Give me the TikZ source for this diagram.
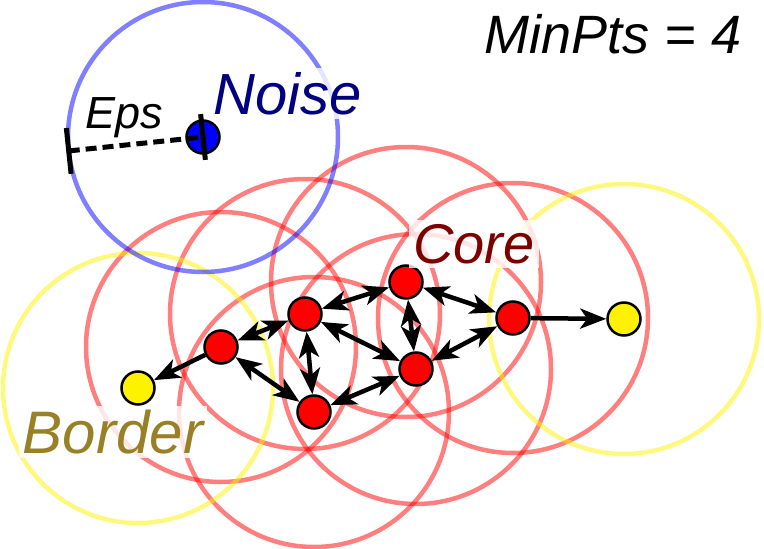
\documentclass[tikz,border=0pt]{standalone}
\usepackage{fontspec}
\setmainfont{Liberation Sans}
\usetikzlibrary{arrows.meta,positioning,calc,backgrounds}
\definecolor{noiseblue}{RGB}{0,0,128}
\definecolor{corered}{RGB}{125,0,0}
\definecolor{borderolive}{RGB}{153,128,38}

\begin{document}
\begin{tikzpicture}[x=1pt,y=-1pt,>={Stealth[length=26pt,width=20pt,inset=7pt]},
  pt/.style={circle,draw=black,line width=2.5pt,minimum size=33pt,inner sep=0pt},
  ring/.style={line width=4.5pt,draw opacity=0.5},
  link/.style={line width=4.5pt,<->},
  onelink/.style={line width=4.5pt,->},
  lbl/.style={font=\fontsize{#1}{#1}\selectfont\itshape,anchor=base,inner sep=4pt}]
  \def\R{135pt}
  \useasboundingbox (0,0) rectangle (764,549);
  \foreach \n/\x/\y in {c1/221/347,c2/305/314,c3/406/282,c4/513/318,c5/416/369,c6/314/412}
    \node[pt,fill=red] (\n) at (\x,\y) {};
  \node[pt,fill=yellow] (b1) at (138,388) {};
  \node[pt,fill=yellow] (b2) at (624,319) {};
  \node[pt,fill=blue] (n) at (203,137) {};
  \begin{scope}[on background layer]
    \foreach \n in {c1,c2,c3,c4,c5,c6} \draw[ring,red] (\n) circle[radius=\R];
    \foreach \n in {b1,b2} \draw[ring,yellow] (\n) circle[radius=\R];
    \draw[ring,blue] (n) circle[radius=\R];
  \end{scope}
  \foreach \a/\b in {c1/c2,c2/c3,c3/c4,c3/c5,c2/c5,c2/c6,c1/c6,c6/c5,c5/c4}
    \draw[link] (\a) -- (\b);
  \draw[onelink] (c1) -- (b1);
  \draw[onelink] (c4) -- (b2);
  % eps radius
  \coordinate (e) at ($(n.center)!\R!(68,151)$);
  \draw[line width=5pt,dash pattern=on 11pt off 6pt] (e) -- (n.center);
  \draw[line width=5pt] ($(e)!23pt!90:(n.center)$) -- ($(e)!23pt!-90:(n.center)$);
  \draw[line width=5pt] ($(n.center)!23pt!90:(e)$) -- ($(n.center)!23pt!-90:(e)$);
  \node[lbl=45] (eps) at (124,128) {Eps};
  \node[lbl=58,text=noiseblue,fill=white,fill opacity=0.8,text opacity=1] (noise) at (288,114) {Noise};
  \node[lbl=56,text=corered,fill=white,fill opacity=0.8,text opacity=1] (core) at (474,263) {Core};
  \node[lbl=60,text=borderolive,fill=white,fill opacity=0.8,text opacity=1] (border) at (113,453) {Border};
  \node[lbl=54] (minpts) at (613,53) {MinPts = 4};
\end{tikzpicture}
\end{document}
